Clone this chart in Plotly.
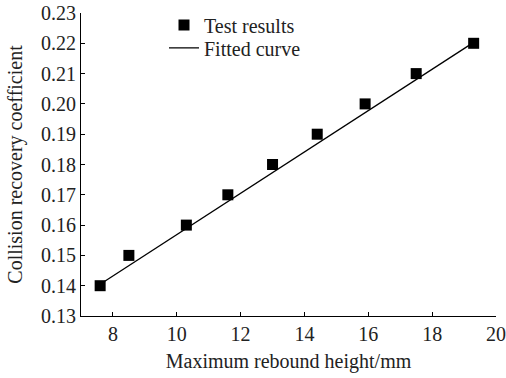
import plotly.graph_objects as go

height_mm = [7.6, 8.5, 10.3, 11.6, 13.0, 14.4, 15.9, 17.5, 19.3]
recovery = [0.14, 0.15, 0.16, 0.17, 0.18, 0.19, 0.20, 0.21, 0.22]
fit_x = [7.6, 19.3]
fit_y = [0.1405, 0.2203]

font = "Liberation Serif, Times New Roman, serif"
fs = 20
fig = go.Figure()
fig.add_trace(go.Scatter(x=height_mm, y=recovery, mode="markers", name="Test results",
                         marker=dict(symbol="square", size=11, color="black"),
                         legend="legend", showlegend=True))
fig.add_trace(go.Scatter(x=fit_x, y=fit_y, mode="lines", name="Fitted curve",
                         line=dict(color="black", width=1.3),
                         legend="legend2", showlegend=True))

axis_common = dict(showline=True, linecolor="black", linewidth=1.2, ticks="inside",
                   ticklen=4, tickcolor="black", showgrid=False, zeroline=False,
                   mirror=False, automargin=False,
                   tickfont=dict(family=font, size=fs, color="#222"))
fig.update_xaxes(range=[7, 20], tickvals=[8, 10, 12, 14, 16, 18, 20],
                 title=dict(text="Maximum rebound height/mm", font=dict(family=font, size=fs, color="#222"), standoff=9),
                 **axis_common)
fig.update_yaxes(range=[0.13, 0.23], tickvals=[0.13, 0.14, 0.15, 0.16, 0.17, 0.18, 0.19, 0.20, 0.21, 0.22, 0.23],
                 tickformat=".2f",
                 title=dict(text="Collision recovery coefficient", font=dict(family=font, size=fs, color="#222"), standoff=12),
                 **axis_common)
leg = dict(xanchor="left", yanchor="middle", bgcolor="rgba(0,0,0,0)",
           font=dict(family=font, size=fs, color="#222"), itemwidth=30, visible=True)
fig.update_layout(width=506, height=378, margin=dict(l=81, r=10, t=13, b=62, autoexpand=False),
                  plot_bgcolor="white", paper_bgcolor="white", showlegend=True,
                  legend=dict(x=0.2, y=0.96, **leg),
                  legend2=dict(x=0.2, y=0.885, **leg))
fig.write_html("out.html")
